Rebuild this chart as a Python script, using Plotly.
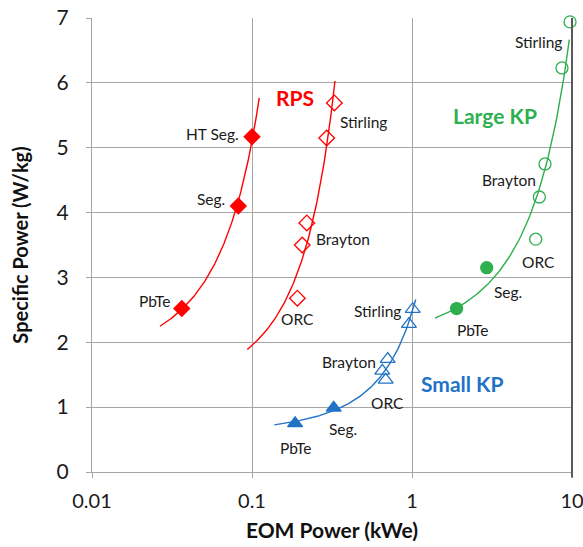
import numpy as np
import plotly.graph_objects as go

# ---------------- data ----------------
# RPS thermoelectric (filled diamonds)
rps_te_x = [0.0364, 0.0821, 0.100]
rps_te_y = [2.52, 4.10, 5.17]
# RPS dynamic (open diamonds)
rps_dyn_x = [0.192, 0.206, 0.220, 0.293, 0.327]
rps_dyn_y = [2.68, 3.50, 3.84, 5.15, 5.69]
# Small KP thermoelectric (filled triangles)
skp_te_x = [0.186, 0.324]
skp_te_y = [0.75, 0.99]
# Small KP dynamic (open triangles)
skp_dyn_x = [0.685, 0.652, 0.705, 0.957, 1.01]
skp_dyn_y = [1.42, 1.56, 1.74, 2.28, 2.51]
# Large KP thermoelectric (filled circles)
lkp_te_x = [1.90, 2.93]
lkp_te_y = [2.52, 3.15]
# Large KP dynamic (open circles)
lkp_dyn_x = [5.93, 6.25, 6.78, 8.66, 9.72]
lkp_dyn_y = [3.59, 4.24, 4.75, 6.23, 6.94]

# trendline extents (x range of each exponential fit)
rps_te_fit_range = [0.0266, 0.111]
rps_dyn_fit_range = [0.0935, 0.330]
skp_fit_range = [0.138, 1.055]
lkp_fit_range = [1.39, 9.62]

x_tick_vals = [0.01, 0.1, 1, 10]
x_tick_text = ["0.01", "0.1", "1", "10"]
y_tick_vals = [0, 1, 2, 3, 4, 5, 6, 7]

# text labels: (text, x, y, color, bold)
labels = [
    ("HT Seg.", 0.0570, 5.21, "#1a1a1a", False),
    ("Seg.", 0.0551, 4.21, "#1a1a1a", False),
    ("PbTe", 0.0248, 2.64, "#1a1a1a", False),
    ("RPS", 0.187, 5.77, "#FF0000", True),
    ("Stirling", 0.501, 5.40, "#1a1a1a", False),
    ("Brayton", 0.368, 3.59, "#1a1a1a", False),
    ("ORC", 0.192, 2.36, "#1a1a1a", False),
    ("Stirling", 6.18, 6.63, "#1a1a1a", False),
    ("Large KP", 3.30, 5.50, "#2EB04F", True),
    ("Brayton", 4.01, 4.50, "#1a1a1a", False),
    ("ORC", 6.14, 3.24, "#1a1a1a", False),
    ("Seg.", 3.98, 2.78, "#1a1a1a", False),
    ("PbTe", 2.42, 2.19, "#1a1a1a", False),
    ("Stirling", 0.608, 2.48, "#1a1a1a", False),
    ("Brayton", 0.406, 1.70, "#1a1a1a", False),
    ("Small KP", 2.07, 1.37, "#2273C6", True),
    ("ORC", 0.703, 1.06, "#1a1a1a", False),
    ("Seg.", 0.368, 0.66, "#1a1a1a", False),
    ("PbTe", 0.188, 0.37, "#1a1a1a", False),
]

RED = "#FF0000"
GREEN = "#2EB04F"
BLUE = "#2273C6"
FONT = "Lato"


def exp_fit(xs, ys, xr):
    b, ln_a = np.polyfit(np.array(xs), np.log(np.array(ys)), 1)
    xx = np.logspace(np.log10(xr[0]), np.log10(xr[1]), 120)
    return xx, np.exp(ln_a) * np.exp(b * xx)


fig = go.Figure()

fits = [
    (rps_te_x, rps_te_y, rps_te_fit_range, RED),
    (rps_dyn_x, rps_dyn_y, rps_dyn_fit_range, RED),
    (skp_te_x + skp_dyn_x, skp_te_y + skp_dyn_y, skp_fit_range, BLUE),
    (lkp_te_x + lkp_dyn_x, lkp_te_y + lkp_dyn_y, lkp_fit_range, GREEN),
]
for xs, ys, xr, col in fits:
    fx, fy = exp_fit(xs, ys, xr)
    fig.add_trace(go.Scatter(x=fx, y=fy, mode="lines",
                             line=dict(color=col, width=1.4),
                             hoverinfo="skip", showlegend=False,
                             cliponaxis=False))

markers = [
    (rps_te_x, rps_te_y, "diamond", RED, 12),
    (rps_dyn_x, rps_dyn_y, "diamond-open", RED, 12),
    (skp_te_x, skp_te_y, "triangle-up", BLUE, 13),
    (skp_dyn_x, skp_dyn_y, "triangle-up-open", BLUE, 13),
    (lkp_te_x, lkp_te_y, "circle", GREEN, 12),
    (lkp_dyn_x, lkp_dyn_y, "circle-open", GREEN, 12),
]
for xs, ys, sym, col, sz in markers:
    fig.add_trace(go.Scatter(x=xs, y=ys, mode="markers",
                             marker=dict(symbol=sym, color=col, size=sz,
                                         line=dict(color=col, width=1.3)),
                             showlegend=False, cliponaxis=False))

for text, x, y, col, bold in labels:
    fig.add_annotation(x=np.log10(x), y=y, xref="x", yref="y",
                       text=f"<b>{text}</b>" if bold else text,
                       showarrow=False,
                       font=dict(family=FONT, size=21 if bold else 15.5, color=col))

# darker right-hand frame line of the plot area
fig.add_shape(type="line", xref="paper", yref="paper",
              x0=1, x1=1, y0=-0.012, y1=1,
              line=dict(color="#5A5A5A", width=2), layer="above")

fig.update_layout(
    width=583, height=547,
    margin=dict(l=92, r=11, t=18, b=75),
    paper_bgcolor="white", plot_bgcolor="white",
    font=dict(family=FONT, color="#1a1a1a"),
    showlegend=False,
)
fig.update_xaxes(
    type="log", range=[-2, 1], automargin=False,
    tickvals=x_tick_vals, ticktext=x_tick_text,
    showgrid=True, gridcolor="#A6A6A6", gridwidth=1,
    showline=True, linecolor="#A6A6A6", linewidth=1,
    ticks="outside", ticklen=5, tickcolor="#A6A6A6",
    ticklabeloverflow="allow", ticklabelstandoff=6,
    tickfont=dict(family=FONT, size=20, color="#1a1a1a"),
    title=dict(text="<b>EOM Power (kWe)</b>", standoff=12,
               font=dict(family=FONT, size=21, color="#111111")),
    zeroline=False,
)
fig.update_yaxes(
    range=[0, 7], tickvals=y_tick_vals, automargin=False,
    showgrid=True, gridcolor="#A6A6A6", gridwidth=1,
    showline=True, linecolor="#A6A6A6", linewidth=1,
    ticks="outside", ticklen=5, tickcolor="#A6A6A6",
    ticklabeloverflow="allow", ticklabelstandoff=13,
    tickfont=dict(family=FONT, size=21, color="#1a1a1a"),
    title=dict(text="<b>Specific Power (W/kg)</b>", standoff=22,
               font=dict(family=FONT, size=20, color="#111111")),
    zeroline=False,
)

fig.write_html("out.html",
               config={"displayModeBar": False},
               post_script="document.body.style.margin='0';"
                           "document.body.style.overflow='hidden';")
